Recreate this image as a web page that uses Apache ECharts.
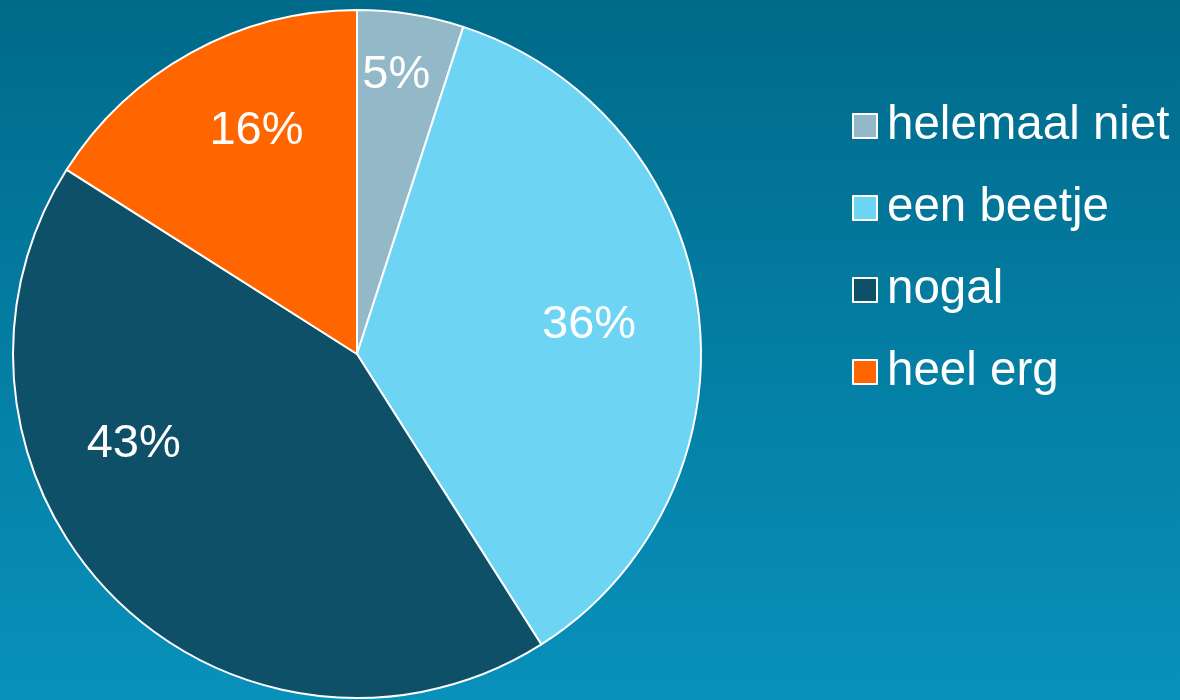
<!DOCTYPE html>
<html>
<head>
<meta charset="utf-8">
<script src="https://cdn.jsdelivr.net/npm/echarts@6/dist/echarts.min.js"></script>
<style>
html,body{margin:0;padding:0;background:#006a8a;}
#c{width:1180px;height:700px;}
</style>
</head>
<body>
<div id="c"></div>
<script>
var categories = ['helemaal niet', 'een beetje', 'nogal', 'heel erg'];
var values = [5, 36, 43, 16];
var colors = ['#93b8c8', '#6dd4f4', '#0e5068', '#ff6600'];

// label placement style: radius fraction and angle shift (deg) per slice
var labelRadiusFrac = [0.82, 0.68, 0.70, 0.71];
var labelAngleShift = [-1, 0, 23, 4.5];

var CX = 357, CY = 354, R = 344;
var total = values.reduce(function (a, b) { return a + b; }, 0);
var midAngles = [];
(function () {
  var acc = 0;
  for (var i = 0; i < values.length; i++) {
    midAngles.push((acc + values[i] / 2) / total * 360);
    acc += values[i];
  }
})();

var chart = echarts.init(document.getElementById('c'));
chart.setOption({
  backgroundColor: {
    type: 'linear', x: 0, y: 0, x2: 0, y2: 1,
    colorStops: [{ offset: 0, color: '#006a8a' }, { offset: 1, color: '#0891bb' }]
  },
  animation: false,
  legend: {
    orient: 'vertical',
    left: 847,
    top: 97,
    itemWidth: 24,
    itemHeight: 24,
    itemGap: 34,
    data: categories,
    icon: 'rect',
    itemStyle: { borderColor: '#ffffff', borderWidth: 2 },
    textStyle: {
      color: '#ffffff',
      fontSize: 47.5,
      lineHeight: 46,
      fontFamily: 'Liberation Sans, Arial, sans-serif',
      padding: [0, 0, 0, 5]
    }
  },
  series: [{
    type: 'pie',
    center: [CX, CY],
    radius: [0, R],
    startAngle: 90,
    clockwise: true,
    avoidLabelOverlap: false,
    data: categories.map(function (c, i) {
      return { name: c, value: values[i], itemStyle: { color: colors[i] } };
    }),
    itemStyle: { borderColor: '#ffffff', borderWidth: 2 },
    emphasis: { disabled: true },
    label: {
      show: true,
      position: 'inside',
      formatter: '{d}%',
      color: '#ffffff',
      fontSize: 47,
      fontFamily: 'Liberation Sans, Arial, sans-serif'
    },
    labelLine: { show: false },
    labelLayout: function (p) {
      var i = p.dataIndex;
      var a = (midAngles[i] + labelAngleShift[i]) * Math.PI / 180;
      var r = R * labelRadiusFrac[i];
      return {
        x: CX + r * Math.sin(a),
        y: CY - r * Math.cos(a),
        align: 'center',
        verticalAlign: 'middle'
      };
    }
  }]
});
</script>
</body>
</html>
